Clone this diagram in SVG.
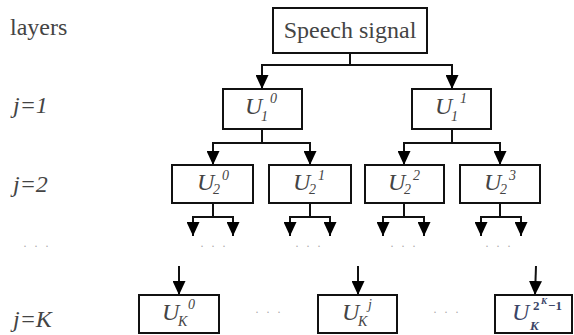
<svg xmlns="http://www.w3.org/2000/svg" width="574" height="335" viewBox="0 0 574 335">
<defs>
<marker id="arr" viewBox="0 0 14 13" refX="14" refY="6.5" markerWidth="14" markerHeight="13" markerUnits="userSpaceOnUse" orient="auto">
<path d="M0,0 L14,6.5 L0,13 Z" fill="#000"/>
</marker>
</defs>
<style>
.box{fill:#fff;stroke:#111;stroke-width:2}
.ln{fill:none;stroke:#111;stroke-width:2}
.ar{fill:none;stroke:#111;stroke-width:2;marker-end:url(#arr)}
text{font-family:'Liberation Serif','Times New Roman',serif;fill:#444}
.big{font-size:24px}
.it{font-style:italic}
.s{font-size:14px;font-style:italic}
.dots{font-size:12px;fill:#aaa;letter-spacing:2px}
</style>
<rect width="574" height="335" fill="#fff"/>

<g id="labels">
<text class="big" x="10" y="35">layers</text>
<text class="big it" x="13" y="113">j=1</text>
<text class="big it" x="13" y="192">j=2</text>
<text class="big it" x="13" y="327">j=K</text>
</g>

<g id="connectors">
<path class="ln" d="M350,53 V65"/>
<path class="ar" d="M350,65 H262 V89"/>
<path class="ar" d="M350,65 H452 V89"/>
<path class="ln" d="M262,129 V143"/>
<path class="ar" d="M262,143 H213 V165"/>
<path class="ar" d="M262,143 H310 V165"/>
<path class="ln" d="M452,129 V143"/>
<path class="ar" d="M452,143 H404 V165"/>
<path class="ar" d="M452,143 H500 V165"/>
<path class="ln" d="M213,203 V217"/>
<path class="ar" d="M213,217 H193 V236"/>
<path class="ar" d="M213,217 H233 V236"/>
<path class="ln" d="M310,203 V217"/>
<path class="ar" d="M310,217 H290 V236"/>
<path class="ar" d="M310,217 H330 V236"/>
<path class="ln" d="M404,203 V217"/>
<path class="ar" d="M404,217 H383 V236"/>
<path class="ar" d="M404,217 H424 V236"/>
<path class="ln" d="M500,203 V217"/>
<path class="ar" d="M500,217 H481 V236"/>
<path class="ar" d="M500,217 H521 V236"/>
<path class="ar" d="M179,266 V295"/>
<path class="ar" d="M358,266 V295"/>
<path class="ar" d="M536,266 L535,295"/>
</g>

<g id="dots">
<text class="dots" x="23" y="250">· · ·</text>
<text class="dots" x="200" y="250">· · ·</text>
<text class="dots" x="295" y="250">· · ·</text>
<text class="dots" x="390" y="250">· · ·</text>
<text class="dots" x="485" y="250">· · ·</text>
<text class="dots" x="255" y="316">· · ·</text>
<text class="dots" x="433" y="316">· · ·</text>
</g>

<g id="speech">
<rect class="box" x="273" y="8" width="154" height="45"/>
<text class="big" x="350" y="38" text-anchor="middle">Speech signal</text>
</g>

<g id="u1_0">
<rect class="box" x="223" y="89" width="79" height="40"/>
<text><tspan class="big it" x="245" y="114">U</tspan><tspan class="s" x="261" y="121">1</tspan><tspan class="s" x="270" y="103">0</tspan></text>
</g>
<g id="u1_1">
<rect class="box" x="412" y="89" width="79" height="40"/>
<text><tspan class="big it" x="435" y="114">U</tspan><tspan class="s" x="451" y="121">1</tspan><tspan class="s" x="460" y="103">1</tspan></text>
</g>

<g id="u2_0">
<rect class="box" x="172" y="165" width="81" height="38"/>
<text><tspan class="big it" x="197" y="190">U</tspan><tspan class="s" x="213" y="194">2</tspan><tspan class="s" x="222" y="180">0</tspan></text>
</g>
<g id="u2_1">
<rect class="box" x="269" y="165" width="82" height="38"/>
<text><tspan class="big it" x="293" y="190">U</tspan><tspan class="s" x="309" y="194">2</tspan><tspan class="s" x="318" y="180">1</tspan></text>
</g>
<g id="u2_2">
<rect class="box" x="365" y="165" width="79" height="38"/>
<text><tspan class="big it" x="388" y="190">U</tspan><tspan class="s" x="404" y="194">2</tspan><tspan class="s" x="413" y="180">2</tspan></text>
</g>
<g id="u2_3">
<rect class="box" x="460" y="165" width="80" height="38"/>
<text><tspan class="big it" x="484" y="190">U</tspan><tspan class="s" x="500" y="194">2</tspan><tspan class="s" x="509" y="180">3</tspan></text>
</g>

<g id="uk_0">
<rect class="box" x="139" y="295" width="80" height="38"/>
<text><tspan class="big it" x="162" y="320">U</tspan><tspan class="s" x="178" y="326">K</tspan><tspan class="s" x="188" y="309">0</tspan></text>
</g>
<g id="uk_j">
<rect class="box" x="318" y="295" width="79" height="38"/>
<text><tspan class="big it" x="342" y="320">U</tspan><tspan class="s" x="358" y="326">K</tspan><tspan class="s" x="368" y="309">j</tspan></text>
</g>
<g id="uk_last">
<rect class="box" x="495" y="295" width="77" height="38"/>
<text style="fill:#3a4466"><tspan class="big it" x="512" y="320">U</tspan><tspan style="font-size:13px;font-weight:bold" x="533" y="310">2</tspan><tspan style="font-size:9px;font-style:italic;font-weight:bold" x="541" y="304">K</tspan><tspan style="font-size:13px;font-weight:bold" x="548" y="310">−1</tspan><tspan style="font-size:13px;font-style:italic;font-weight:bold" x="530" y="330">K</tspan></text>
</g>
</svg>
